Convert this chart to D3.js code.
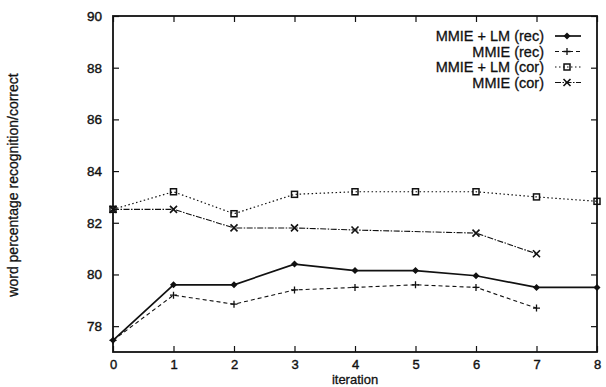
<!DOCTYPE html>
<html>
<head>
<meta charset="utf-8">
<script src="https://cdn.jsdelivr.net/npm/d3@7"></script>
<style>
  body { margin: 0; background: #fff; }
  text { font-family: "Liberation Sans", Arial, sans-serif; fill: #111; }
</style>
</head>
<body>
<script>
// data
let iterations = [0, 1, 2, 3, 4, 5, 6, 7, 8]
let lmRec   = [77.45, 79.6, 79.6, 80.4, 80.15, 80.15, 79.95, 79.5, 79.5]
let mmieRec = [77.45, 79.2, 78.85, 79.4, 79.5, 79.6, 79.5, 78.7]
let lmCor   = [82.52, 83.2, 82.35, 83.1, 83.2, 83.2, 83.2, 83.0, 82.83]
let mmieCorX = [0, 1, 2, 3, 4, 6, 7] // no point at 5
let mmieCor  = [82.52, 82.52, 81.8, 81.8, 81.72, 81.6, 80.8]
let yTicks = [78, 80, 82, 84, 86, 88, 90]
let labels = ["MMIE + LM (rec)", "MMIE (rec)", "MMIE + LM (cor)", "MMIE (cor)"]

let width = 606, height = 387
let plotLeft = 113, plotRight = 597, plotTop = 16, plotBottom = 352

let x = d3.scaleLinear().domain([0, 8]).range([plotLeft, plotRight])
let y = d3.scaleLinear().domain([77, 90]).range([plotBottom, plotTop])

let svg = d3.select("body").append("svg")
    .attr("width", width)
    .attr("height", height)

// series: points + line style + marker kind
let series = [
    {name: labels[0], pts: lmRec.map((v, i) => [iterations[i], v]), dash: null, sw: 1.7, mark: "diamond"},
    {name: labels[1], pts: mmieRec.map((v, i) => [iterations[i], v]), dash: "4,3", sw: 1.1, mark: "plus"},
    {name: labels[2], pts: lmCor.map((v, i) => [iterations[i], v]), dash: "1.5,2.5", sw: 1.2, mark: "square"},
    {name: labels[3], pts: mmieCor.map((v, i) => [mmieCorX[i], v]), dash: "6,1.5,1.5,1.5", sw: 1.1, mark: "cross"}
]

function drawMarker(g, kind, cx, cy){
    if(kind == "diamond"){
        g.append("path")
            .attr("d", `M${cx},${cy-3.5}L${cx+3.5},${cy}L${cx},${cy+3.5}L${cx-3.5},${cy}Z`)
            .attr("fill", "#111")
    } else if(kind == "plus"){
        g.append("path")
            .attr("d", `M${cx-3.5},${cy}H${cx+3.5}M${cx},${cy-3.5}V${cy+3.5}`)
            .attr("stroke", "#111").attr("stroke-width", 1.3)
    } else if(kind == "square"){
        g.append("rect")
            .attr("x", cx-3).attr("y", cy-3).attr("width", 6).attr("height", 6)
            .attr("fill", "none").attr("stroke", "#111").attr("stroke-width", 1.5)
    } else {
        g.append("path")
            .attr("d", `M${cx-3.5},${cy-3.5}L${cx+3.5},${cy+3.5}M${cx+3.5},${cy-3.5}L${cx-3.5},${cy+3.5}`)
            .attr("stroke", "#111").attr("stroke-width", 1.6)
    }
}

let line = d3.line().x(d => x(d[0])).y(d => y(d[1]))

let g = svg.append("g")
series.forEach(s => {
    g.append("path")
        .datum(s.pts)
        .attr("d", line)
        .attr("fill", "none")
        .attr("stroke", "#111")
        .attr("stroke-width", s.sw)
        .attr("stroke-dasharray", s.dash)
    s.pts.forEach(p => drawMarker(g, s.mark, x(p[0]), y(p[1])))
})

// axes: ticks inward, mirrored on top and right
let tickLen = 6
let axisG = svg.append("g")
axisG.append("g")
    .attr("transform", `translate(${plotLeft},0)`)
    .call(d3.axisLeft(y).tickValues(yTicks).tickSize(-tickLen).tickPadding(11).tickFormat(d3.format("d")))
axisG.append("g")
    .attr("transform", `translate(${plotRight},0)`)
    .call(d3.axisRight(y).tickValues(yTicks).tickSize(-tickLen).tickFormat(""))
let xAxisG = axisG.append("g")
    .attr("transform", `translate(0,${plotBottom})`)
    .call(d3.axisBottom(x).tickValues(iterations).tickSize(-tickLen).tickPadding(8).tickFormat(d3.format("d")))
axisG.append("g")
    .attr("transform", `translate(0,${plotTop})`)
    .call(d3.axisTop(x).tickValues(iterations).tickSize(-tickLen).tickFormat(""))

axisG.selectAll(".domain").remove()
axisG.selectAll(".tick line").attr("stroke", "#111").attr("stroke-width", 1.2)
axisG.selectAll(".tick text")
    .style("font-size", "13.5px")
    .style("font-family", "'Liberation Sans', Arial, sans-serif")
    .attr("fill", "#111")
    .attr("stroke", "#111").attr("stroke-width", 0.4)
xAxisG.selectAll(".tick text").style("font-size", "13px")

// frame
svg.append("rect")
    .attr("x", plotLeft).attr("y", plotTop)
    .attr("width", plotRight - plotLeft).attr("height", plotBottom - plotTop)
    .attr("fill", "none").attr("stroke", "#111").attr("stroke-width", 1.8)

// axis titles
svg.append("text")
    .attr("x", x(4)).attr("y", 384)
    .attr("text-anchor", "middle")
    .style("font-size", "13px")
    .attr("stroke", "#111").attr("stroke-width", 0.3)
    .text("iteration")

svg.append("text")
    .attr("transform", "translate(18,185) rotate(-90)")
    .attr("text-anchor", "middle")
    .style("font-size", "14px")
    .attr("stroke", "#111").attr("stroke-width", 0.3)
    .text("word percentage recognition/correct")

// legend
let legendRight = 544
let legendRows = [36, 51.5, 67, 82.5]
series.forEach((s, i) => {
    let ly = legendRows[i]
    svg.append("text")
        .attr("x", legendRight).attr("y", ly + 5)
        .attr("text-anchor", "end")
        .style("font-size", "14.5px")
        .attr("stroke", "#111").attr("stroke-width", 0.3)
        .text(s.name)
    svg.append("line")
        .attr("x1", 555).attr("x2", 581)
        .attr("y1", ly).attr("y2", ly)
        .attr("stroke", "#111")
        .attr("stroke-width", s.sw)
        .attr("stroke-dasharray", s.dash)
    drawMarker(svg, s.mark, 567, ly)
})
</script>
</body>
</html>
